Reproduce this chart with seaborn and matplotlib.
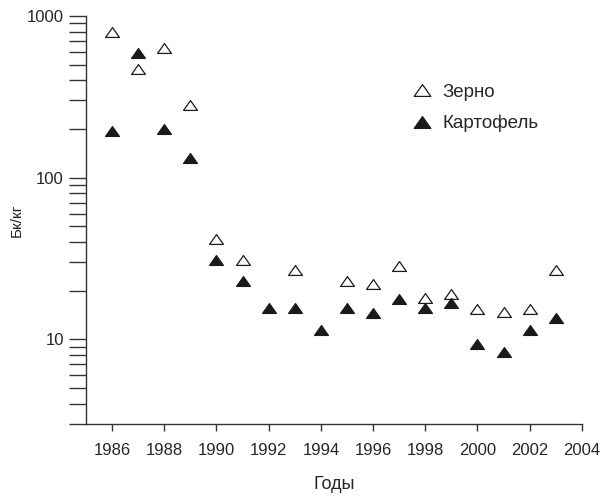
import matplotlib.pyplot as plt
import pandas as pd
import seaborn as sns
from matplotlib.lines import Line2D
from matplotlib.path import Path
from matplotlib.ticker import LogLocator, NullFormatter, FixedLocator

years_grain = [1986, 1987, 1988, 1989, 1990, 1991, 1993, 1995, 1996, 1997,
               1998, 1999, 2000, 2001, 2002, 2003]
grain = [790, 470, 630, 280, 42, 31, 27, 23, 22, 28.5, 18, 19, 15.5, 14.7,
         15.5, 27]

years_potato = [1986, 1987, 1988, 1989, 1990, 1991, 1992, 1993, 1994, 1995,
                1996, 1997, 1998, 1999, 2000, 2001, 2002, 2003]
potato = [195, 590, 200, 132, 31, 23, 15.6, 15.6, 11.5, 15.6, 14.6, 17.8,
          15.6, 16.8, 9.4, 8.4, 11.5, 13.6]

xticks = list(range(1986, 2005, 2))

FONT = ["Liberation Sans", "DejaVu Sans"]
# flattened triangle, closed so the open marker gets all three edges
TRI = Path([(0, 0.71), (-1, -0.71), (1, -0.71), (0, 0.71)],
           [Path.MOVETO, Path.LINETO, Path.LINETO, Path.CLOSEPOLY])

sns.set_theme(style="ticks")
plt.rcParams["font.family"] = FONT

df_g = pd.DataFrame({"year": years_grain, "val": grain})
df_p = pd.DataFrame({"year": years_potato, "val": potato})

fig = plt.figure(figsize=(6.03, 4.97), dpi=100)
ax = fig.add_axes([0.1426, 0.147, 0.8224, 0.821])

sns.scatterplot(data=df_g, x="year", y="val", marker=TRI, s=100,
                facecolor="white", edgecolor="#1a1a1a", linewidth=0.9, ax=ax)
sns.scatterplot(data=df_p, x="year", y="val", marker=TRI, s=100,
                color="#1a1a1a", edgecolor="#1a1a1a", linewidth=0.9, ax=ax)

ax.set_yscale("log")
ax.set_ylim(3, 1000)
ax.set_xlim(1985, 2004)
ax.xaxis.set_major_locator(FixedLocator(xticks))
ax.yaxis.set_minor_locator(LogLocator(base=10, subs=range(2, 10), numticks=20))
ax.yaxis.set_minor_formatter(NullFormatter())
ax.set_yticks([10, 100, 1000])
ax.set_yticklabels(["10", "100", "1000"])

ax.tick_params(axis="y", which="both", direction="out", length=12, width=1,
               color="#333333", labelsize=12, pad=4)
ax.tick_params(axis="x", direction="out", length=5, width=1, color="#333333",
               labelsize=12, pad=9)
for s in ["top", "right"]:
    ax.spines[s].set_visible(False)
for s in ["left", "bottom"]:
    ax.spines[s].set_linewidth(1)
    ax.spines[s].set_color("#333333")

ax.set_xlabel("Годы", fontsize=13, labelpad=13)
ax.set_ylabel("Бк/кг", fontsize=11, labelpad=2)
ax.grid(False)

handles = [
    Line2D([], [], marker=TRI, ls="", markersize=12, markerfacecolor="white",
           markeredgecolor="#1a1a1a", markeredgewidth=0.9),
    Line2D([], [], marker=TRI, ls="", markersize=12, markerfacecolor="#1a1a1a",
           markeredgecolor="#1a1a1a", markeredgewidth=0.9),
]
fig.legend(handles, ["Зерно", "Картофель"], loc="upper left",
           bbox_to_anchor=(405 / 603, 1 - 76 / 497), frameon=False,
           fontsize=13.5, handlelength=1.0, handletextpad=0.6,
           labelspacing=0.75, borderaxespad=0)

fig.savefig("out.png", dpi=100)
